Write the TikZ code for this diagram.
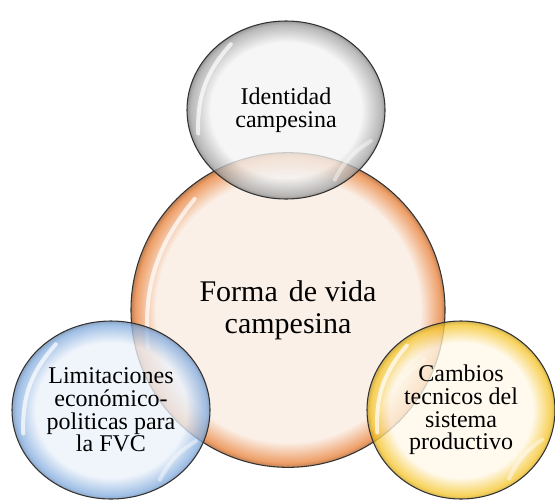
\documentclass[tikz,border=0pt]{standalone}
\usepackage{fontspec}
\setmainfont{Liberation Serif}
\usetikzlibrary{shapes.geometric, calc}

\definecolor{grayin}{HTML}{F4F4F4}
\definecolor{grayout}{HTML}{A5A5A5}
\definecolor{orangein}{HTML}{FBF0E8}
\definecolor{orangeout}{HTML}{EE9F68}
\definecolor{bluein}{HTML}{ECF2FA}
\definecolor{blueout}{HTML}{86AEDF}
\definecolor{yellowin}{HTML}{FFF8E8}
\definecolor{yellowout}{HTML}{F5C52C}

\pgfdeclareradialshading{graybub}{\pgfpoint{0bp}{0bp}}{color(0bp)=(grayin); color(19bp)=(grayin); color(24bp)=(grayout); color(25bp)=(grayout!75!black); color(50bp)=(grayout!75!black)}
\pgfdeclareradialshading{orangebub}{\pgfpoint{0bp}{0bp}}{color(0bp)=(orangein); color(21bp)=(orangein); color(24.3bp)=(orangeout); color(25bp)=(orangeout!80!black); color(50bp)=(orangeout!80!black)}
\pgfdeclareradialshading{bluebub}{\pgfpoint{0bp}{0bp}}{color(0bp)=(bluein); color(19bp)=(bluein); color(24bp)=(blueout); color(25bp)=(blueout!80!black); color(50bp)=(blueout!80!black)}
\pgfdeclareradialshading{yellowbub}{\pgfpoint{0bp}{0bp}}{color(0bp)=(yellowin); color(19bp)=(yellowin); color(24bp)=(yellowout); color(25bp)=(yellowout!80!black); color(50bp)=(yellowout!80!black)}

\tikzstyle{bubble} = [ellipse, inner sep=0pt, draw=black!80, line width=0.8pt, align=center, text=black, fill opacity=0.78, text opacity=1, minimum width=148.5pt, minimum height=133.5pt, font=\fontsize{18}{17}\selectfont]
\tikzstyle{shine} = [white, line width=3pt, line cap=round, opacity=0.7]

% glossy highlights of one bubble
\newcommand{\shinebub}[1]{
  \draw [shine] ($(#1.center)!0.92!(#1.130)$) to[bend right=22] ($(#1.center)!0.92!(#1.195)$);
  \draw [shine, opacity=0.45] ($(#1.center)!0.92!(#1.-20)$) to[bend right=15] ($(#1.center)!0.92!(#1.-55)$);
}

\begin{document}
\begin{tikzpicture}[x=0.75pt, y=-0.75pt]
\useasboundingbox (0,0) rectangle (555,500);
% NODES
\node (forma) [bubble, shading=orangebub, fill opacity=1, minimum width=235.5pt, minimum height=236pt, font=\fontsize{22.5}{24}\selectfont] at (288,310) {Forma\hspace{0.12em} de vida\\campesina};
\shinebub{forma}
\node (identidad) [bubble, shading=graybub] at (286,110) {Identidad\\campesina};
\shinebub{identidad}
\node (limitaciones) [bubble, shading=bluebub] at (111,410) {Limitaciones\\económico-\\politicas para\\la FVC};
\shinebub{limitaciones}
\node (cambios) [bubble, shading=yellowbub, minimum width=141pt] at (461,410) {Cambios\\tecnicos del\\sistema\\productivo};
\shinebub{cambios}
\end{tikzpicture}
\end{document}
